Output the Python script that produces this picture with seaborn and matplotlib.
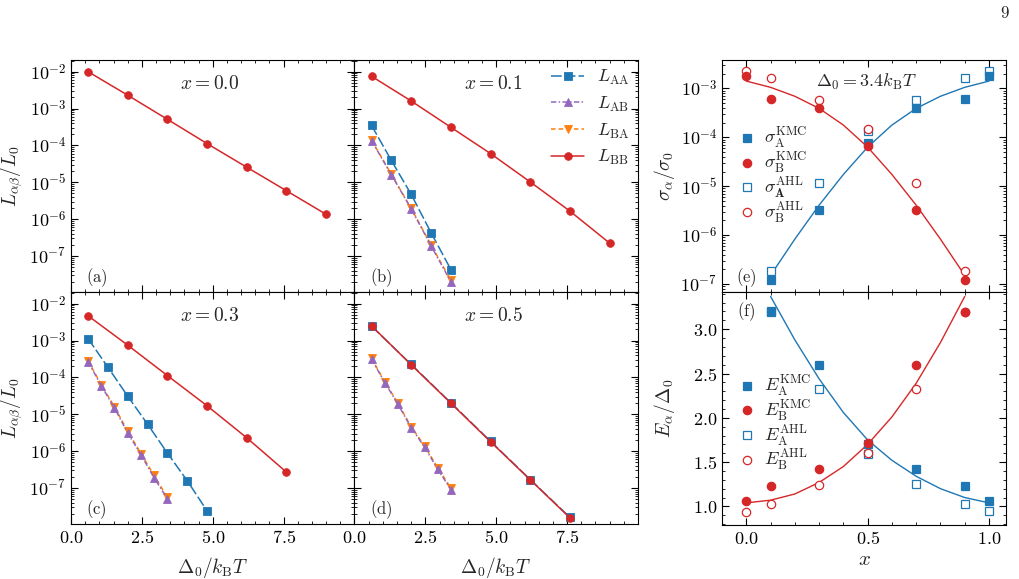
import numpy as np
import pandas as pd
import matplotlib
matplotlib.use("Agg")
from matplotlib import pyplot
from matplotlib.ticker import MultipleLocator, FuncFormatter, NullFormatter, LogLocator, FixedLocator
import seaborn

# ---- data ----
# left block: L_ab / L_0 versus Delta_0 / k_B T for four compositions
X_BB = [0.6, 2.0, 3.4, 4.8, 6.2, 7.6, 9.0]
X_AA_01 = [0.6, 1.3, 2.0, 2.7, 3.4]
X_AA_03 = [0.6, 1.3, 2.0, 2.7, 3.4, 4.1, 4.8]
X_AB = [0.6, 1.07, 1.53, 2.0, 2.47, 2.93, 3.4]
X_D = [0.6, 2.0, 3.4, 4.8, 6.2, 7.6]

BB_00 = [1.0e-2, 2.3e-3, 5.1e-4, 1.12e-4, 2.56e-5, 5.9e-6, 1.35e-6]

AA_01 = [3.5e-4, 3.9e-5, 4.7e-6, 4.3e-7, 4.3e-8]
AB_01 = [1.35e-4, 1.6e-5, 1.9e-6, 1.9e-7, 2.0e-8]
BA_01 = [1.4e-4, 1.65e-5, 1.95e-6, 2.0e-7, 2.2e-8]
BB_01 = [7.5e-3, 1.6e-3, 3.1e-4, 6.0e-5, 1.02e-5, 1.65e-6, 2.24e-7]

AA_03 = [1.13e-3, 1.9e-4, 3.1e-5, 5.4e-6, 8.9e-7, 1.58e-7, 2.4e-8]
AB_03 = [2.7e-4, 5.9e-5, 1.5e-5, 3.1e-6, 8.0e-7, 1.9e-7, 5.1e-8]
BA_03 = [2.85e-4, 6.3e-5, 1.6e-5, 3.5e-6, 8.6e-7, 2.2e-7, 5.6e-8]
BB_03 = [4.7e-3, 7.5e-4, 1.12e-4, 1.7e-5, 2.3e-6, 2.7e-7]

AA_05 = [2.45e-3, 2.25e-4, 2.05e-5, 1.85e-6, 1.7e-7, 1.6e-8]
AB_05 = [3.1e-4, 7.2e-5, 1.9e-5, 4.3e-6, 1.3e-6, 3.3e-7, 9.1e-8]
BA_05 = [3.3e-4, 7.6e-5, 2.0e-5, 4.6e-6, 1.4e-6, 3.6e-7, 1.0e-7]
BB_05 = [2.5e-3, 2.2e-4, 2.0e-5, 1.8e-6, 1.67e-7, 1.55e-8]

L_TICKS = [1e-7, 1e-6, 1e-5, 1e-4, 1e-3, 1e-2]
D_TICKS = [0.0, 2.5, 5.0, 7.5]

# right block: conductivities and activation energies versus x
X_SIG_A = [0.1, 0.3, 0.5, 0.7, 0.9, 1.0]
X_SIG_B = [0.0, 0.1, 0.3, 0.5, 0.7, 0.9]
SIG_A_KMC = [1.23e-7, 3.2e-6, 7.6e-5, 3.9e-4, 6.1e-4, 1.78e-3]
SIG_B_KMC = [1.78e-3, 6.1e-4, 3.9e-4, 6.7e-5, 3.2e-6, 1.23e-7]
SIG_A_AHL = [1.86e-7, 1.15e-5, 1.35e-4, 5.8e-4, 1.6e-3, 2.3e-3]
SIG_B_AHL = [2.3e-3, 1.6e-3, 5.8e-4, 1.5e-4, 1.15e-5, 1.86e-7]

X_FIT_A = [0.1, 0.2, 0.3, 0.4, 0.5, 0.6, 0.7, 0.8, 0.9, 1.0]
X_FIT_B = [0.0, 0.1, 0.2, 0.3, 0.4, 0.5, 0.6, 0.7, 0.8, 0.9]
SIG_A_FIT = [1.51e-7, 8.3e-7, 4.1e-6, 1.74e-5, 6.3e-5, 1.78e-4, 3.9e-4, 6.9e-4, 1.05e-3, 1.41e-3]
SIG_B_FIT = [1.41e-3, 1.05e-3, 6.9e-4, 3.9e-4, 1.78e-4, 6.3e-5, 1.74e-5, 4.1e-6, 8.3e-7, 1.51e-7]

E_A_KMC = [3.19, 2.60, 1.70, 1.42, 1.23, 1.06]
E_B_KMC = [1.06, 1.23, 1.42, 1.72, 2.60, 3.19]
E_A_AHL = [3.21, 2.33, 1.59, 1.25, 1.03, 0.95]
E_B_AHL = [0.94, 1.03, 1.24, 1.60, 2.32, 3.19]
E_A_FIT = [3.37, 2.88, 2.44, 2.06, 1.75, 1.52, 1.34, 1.20, 1.10, 1.04]
E_B_FIT = [1.04, 1.07, 1.14, 1.27, 1.45, 1.70, 2.01, 2.39, 2.85, 3.37]

SIG_TICKS = [1e-7, 1e-6, 1e-5, 1e-4, 1e-3]
E_TICKS = [1.0, 1.5, 2.0, 2.5, 3.0]
X_TICKS = [0.0, 0.5, 1.0]

BLUE, PURPLE, ORANGE, RED = "#1f77b4", "#9467bd", "#ff7f0e", "#d62728"

seaborn.set_theme(style="ticks")
pyplot.rcParams.update({
    "mathtext.fontset": "cm",
    "font.family": ["DejaVu Serif"],
    "axes.edgecolor": "black",
    "axes.linewidth": 0.8,
    "xtick.color": "black",
    "ytick.color": "black",
    "xtick.direction": "in",
    "ytick.direction": "in",
    "xtick.top": True,
    "ytick.right": True,
    "xtick.major.size": 5,
    "ytick.major.size": 5,
    "xtick.minor.size": 2.5,
    "ytick.minor.size": 2.5,
    "xtick.major.width": 0.8,
    "ytick.major.width": 0.8,
    "xtick.minor.width": 0.6,
    "ytick.minor.width": 0.6,
    "xtick.minor.visible": True,
    "ytick.minor.visible": True,
    "xtick.labelsize": 13,
    "ytick.labelsize": 13,
    "axes.labelsize": 14,
})

fig = pyplot.figure(figsize=(10.2, 5.79), dpi=100)
W, H = 1020.0, 579.0


def box(x0, y0, x1, y1):
    return [x0 / W, 1 - y1 / H, (x1 - x0) / W, (y1 - y0) / H]


ax_a = fig.add_axes(box(71, 60, 354.5, 292))
ax_b = fig.add_axes(box(354.5, 60, 638, 292))
ax_c = fig.add_axes(box(71, 292, 354.5, 524))
ax_d = fig.add_axes(box(354.5, 292, 638, 524))
ax_e = fig.add_axes(box(722, 60, 1006, 292))
ax_f = fig.add_axes(box(722, 292, 1006, 525))

pow_fmt = FuncFormatter(lambda v, p: r"$10^{%d}$" % int(round(np.log10(v))))
dec_fmt = FuncFormatter(lambda v, p: r"$%.1f$" % v)
log_minor = LogLocator(base=10, subs=np.arange(2, 10), numticks=20)

AA_KW = dict(color=BLUE, marker="s", dashes=(7, 2), zorder=3, label=r"$L_\mathrm{AA}$")
AB_KW = dict(color=PURPLE, marker="^", dashes=(3.5, 1.5, 1, 1.5), zorder=5, label=r"$L_\mathrm{AB}$")
BA_KW = dict(color=ORANGE, marker="v", dashes=(3, 2), zorder=4, label=r"$L_\mathrm{BA}$")
BB_KW = dict(color=RED, marker="o", linestyle="-", zorder=6, label=r"$L_\mathrm{BB}$")


def draw(ax, x, y, kw):
    kw = dict(kw)
    c = kw["color"]
    seaborn.lineplot(x=x, y=y, ax=ax, markersize=5.5, markeredgewidth=0.6,
                     markeredgecolor=c, linewidth=1.1, legend=False, **kw)


panels = [
    (ax_a, r"$x = 0.0$", r"$\mathrm{(a)}$", [(X_BB, BB_00, BB_KW)]),
    (ax_b, r"$x = 0.1$", r"$\mathrm{(b)}$", [(X_AA_01, AA_01, AA_KW), (X_AA_01, AB_01, AB_KW),
                                           (X_AA_01, BA_01, BA_KW), (X_BB, BB_01, BB_KW)]),
    (ax_c, r"$x = 0.3$", r"$\mathrm{(c)}$", [(X_AA_03, AA_03, AA_KW), (X_AB, AB_03, AB_KW),
                                           (X_AB, BA_03, BA_KW), (X_D, BB_03, BB_KW)]),
    (ax_d, r"$x = 0.5$", r"$\mathrm{(d)}$", [(X_D, AA_05, AA_KW), (X_AB, AB_05, AB_KW),
                                           (X_AB, BA_05, BA_KW), (X_D, BB_05, BB_KW)]),
]

for ax, title, tag, series in panels:
    ax.set_yscale("log")
    for x, y, kw in series:
        draw(ax, x, y, kw)
    ax.set_xlim(0, 10)
    ax.set_ylim(1.06e-8, 2.07e-2)
    ax.xaxis.set_major_locator(FixedLocator(D_TICKS))
    ax.xaxis.set_minor_locator(MultipleLocator(0.5))
    ax.xaxis.set_major_formatter(dec_fmt)
    ax.yaxis.set_major_locator(FixedLocator(L_TICKS))
    ax.yaxis.set_minor_locator(log_minor)
    ax.yaxis.set_major_formatter(pow_fmt)
    ax.yaxis.set_minor_formatter(NullFormatter())
    ax.set_xlabel("")
    ax.set_ylabel("")
    ax.text(0.49, 0.895, title, transform=ax.transAxes, ha="center", va="center", fontsize=14)
    ax.text(0.053, 0.062, tag, transform=ax.transAxes, ha="left", va="center", fontsize=12)

for ax in (ax_a, ax_b):
    ax.tick_params(axis="x", labelbottom=False)
for ax in (ax_b, ax_d):
    ax.tick_params(axis="y", labelleft=False)

for ax in (ax_a, ax_c):
    ax.set_ylabel(r"$L_{\alpha\beta}/L_0$")
    ax.yaxis.set_label_coords(-0.162, 0.5)
for ax in (ax_c, ax_d):
    ax.set_xlabel(r"$\Delta_0/k_\mathrm{B}T$")
    ax.xaxis.set_label_coords(0.5, -0.134)

ax_b.legend(loc="upper right", bbox_to_anchor=(1.0, 1.0), frameon=False, fontsize=13,
            handlelength=1.85, handletextpad=0.7, labelspacing=0.42, borderaxespad=0.05)

# ---- panel (e): conductivities ----
MK = dict(linestyle="none", markersize=6, markeredgewidth=0.9, legend=False)
ax_e.set_yscale("log")
seaborn.lineplot(x=X_FIT_A, y=SIG_A_FIT, ax=ax_e, color=BLUE, linewidth=1.0, legend=False)
seaborn.lineplot(x=X_FIT_B, y=SIG_B_FIT, ax=ax_e, color=RED, linewidth=1.0, legend=False)
seaborn.lineplot(x=X_SIG_A, y=SIG_A_AHL, ax=ax_e, color=BLUE, marker="s", markerfacecolor="white",
                 markeredgecolor=BLUE, label=r"$\sigma_\mathbf{A}^\mathrm{AHL}$", zorder=3, **MK)
seaborn.lineplot(x=X_SIG_B, y=SIG_B_AHL, ax=ax_e, color=RED, marker="o", markerfacecolor="white",
                 markeredgecolor=RED, label=r"$\sigma_\mathrm{B}^\mathrm{AHL}$", zorder=3, **MK)
seaborn.lineplot(x=X_SIG_A, y=SIG_A_KMC, ax=ax_e, color=BLUE, marker="s", markerfacecolor=BLUE,
                 markeredgecolor=BLUE, label=r"$\sigma_\mathrm{A}^\mathrm{KMC}$", zorder=4, **MK)
seaborn.lineplot(x=X_SIG_B, y=SIG_B_KMC, ax=ax_e, color=RED, marker="o", markerfacecolor=RED,
                 markeredgecolor=RED, label=r"$\sigma_\mathrm{B}^\mathrm{KMC}$", zorder=4, **MK)
ax_e.set_xlim(-0.1, 1.07)
ax_e.set_ylim(6.9e-8, 3.8e-3)
ax_e.yaxis.set_major_locator(FixedLocator(SIG_TICKS))
ax_e.yaxis.set_minor_locator(log_minor)
ax_e.yaxis.set_major_formatter(pow_fmt)
ax_e.yaxis.set_minor_formatter(NullFormatter())
ax_e.xaxis.set_major_locator(FixedLocator(X_TICKS))
ax_e.xaxis.set_minor_locator(MultipleLocator(0.1))
ax_e.tick_params(axis="x", labelbottom=False)
ax_e.set_xlabel("")
ax_e.set_ylabel(r"$\sigma_\alpha/\sigma_0$")
ax_e.yaxis.set_label_coords(-0.16, 0.5)
ax_e.text(0.51, 0.906, r"$\Delta_0 = 3.4k_\mathrm{B}T$", transform=ax_e.transAxes,
          ha="center", va="center", fontsize=13)
ax_e.text(0.087, 0.062, r"$\mathrm{(e)}$", transform=ax_e.transAxes, ha="center", va="center", fontsize=12)

# ---- panel (f): activation energies ----
seaborn.lineplot(x=X_FIT_A, y=E_A_FIT, ax=ax_f, color=BLUE, linewidth=1.0, legend=False)
seaborn.lineplot(x=X_FIT_B, y=E_B_FIT, ax=ax_f, color=RED, linewidth=1.0, legend=False)
seaborn.lineplot(x=X_SIG_A, y=E_A_AHL, ax=ax_f, color=BLUE, marker="s", markerfacecolor="white",
                 markeredgecolor=BLUE, label=r"$E_\mathrm{A}^\mathrm{AHL}$", zorder=3, **MK)
seaborn.lineplot(x=X_SIG_B, y=E_B_AHL, ax=ax_f, color=RED, marker="o", markerfacecolor="white",
                 markeredgecolor=RED, label=r"$E_\mathrm{B}^\mathrm{AHL}$", zorder=3, **MK)
seaborn.lineplot(x=X_SIG_A, y=E_A_KMC, ax=ax_f, color=BLUE, marker="s", markerfacecolor=BLUE,
                 markeredgecolor=BLUE, label=r"$E_\mathrm{A}^\mathrm{KMC}$", zorder=4, **MK)
seaborn.lineplot(x=X_SIG_B, y=E_B_KMC, ax=ax_f, color=RED, marker="o", markerfacecolor=RED,
                 markeredgecolor=RED, label=r"$E_\mathrm{B}^\mathrm{KMC}$", zorder=4, **MK)
ax_f.set_xlim(-0.1, 1.07)
ax_f.set_ylim(0.79, 3.42)
ax_f.xaxis.set_major_locator(FixedLocator(X_TICKS))
ax_f.xaxis.set_minor_locator(MultipleLocator(0.1))
ax_f.yaxis.set_major_locator(FixedLocator(E_TICKS))
ax_f.yaxis.set_minor_locator(MultipleLocator(0.1))
ax_f.xaxis.set_major_formatter(dec_fmt)
ax_f.yaxis.set_major_formatter(dec_fmt)
ax_f.set_xlabel(r"$x$", fontsize=15)
ax_f.xaxis.set_label_coords(0.5, -0.107)
ax_f.set_ylabel(r"$E_\alpha/\Delta_0$")
ax_f.yaxis.set_label_coords(-0.16, 0.5)
ax_f.text(0.087, 0.915, r"$\mathrm{(f)}$", transform=ax_f.transAxes, ha="center", va="center", fontsize=12)


def ordered_legend(ax, y):
    h, l = ax.get_legend_handles_labels()
    order = [2, 3, 0, 1]
    ax.legend([h[i] for i in order], [l[i] for i in order], loc="center left",
              bbox_to_anchor=(0.0, y), frameon=False, fontsize=13, handlelength=0.8,
              handletextpad=0.5, labelspacing=-0.02, borderaxespad=0.6)


ordered_legend(ax_e, 0.50)
ordered_legend(ax_f, 0.435)

fig.text(1005 / W, 1 - 14 / H, r"$9$", ha="center", va="center", fontsize=12)

pyplot.savefig("out.png", dpi=100)
